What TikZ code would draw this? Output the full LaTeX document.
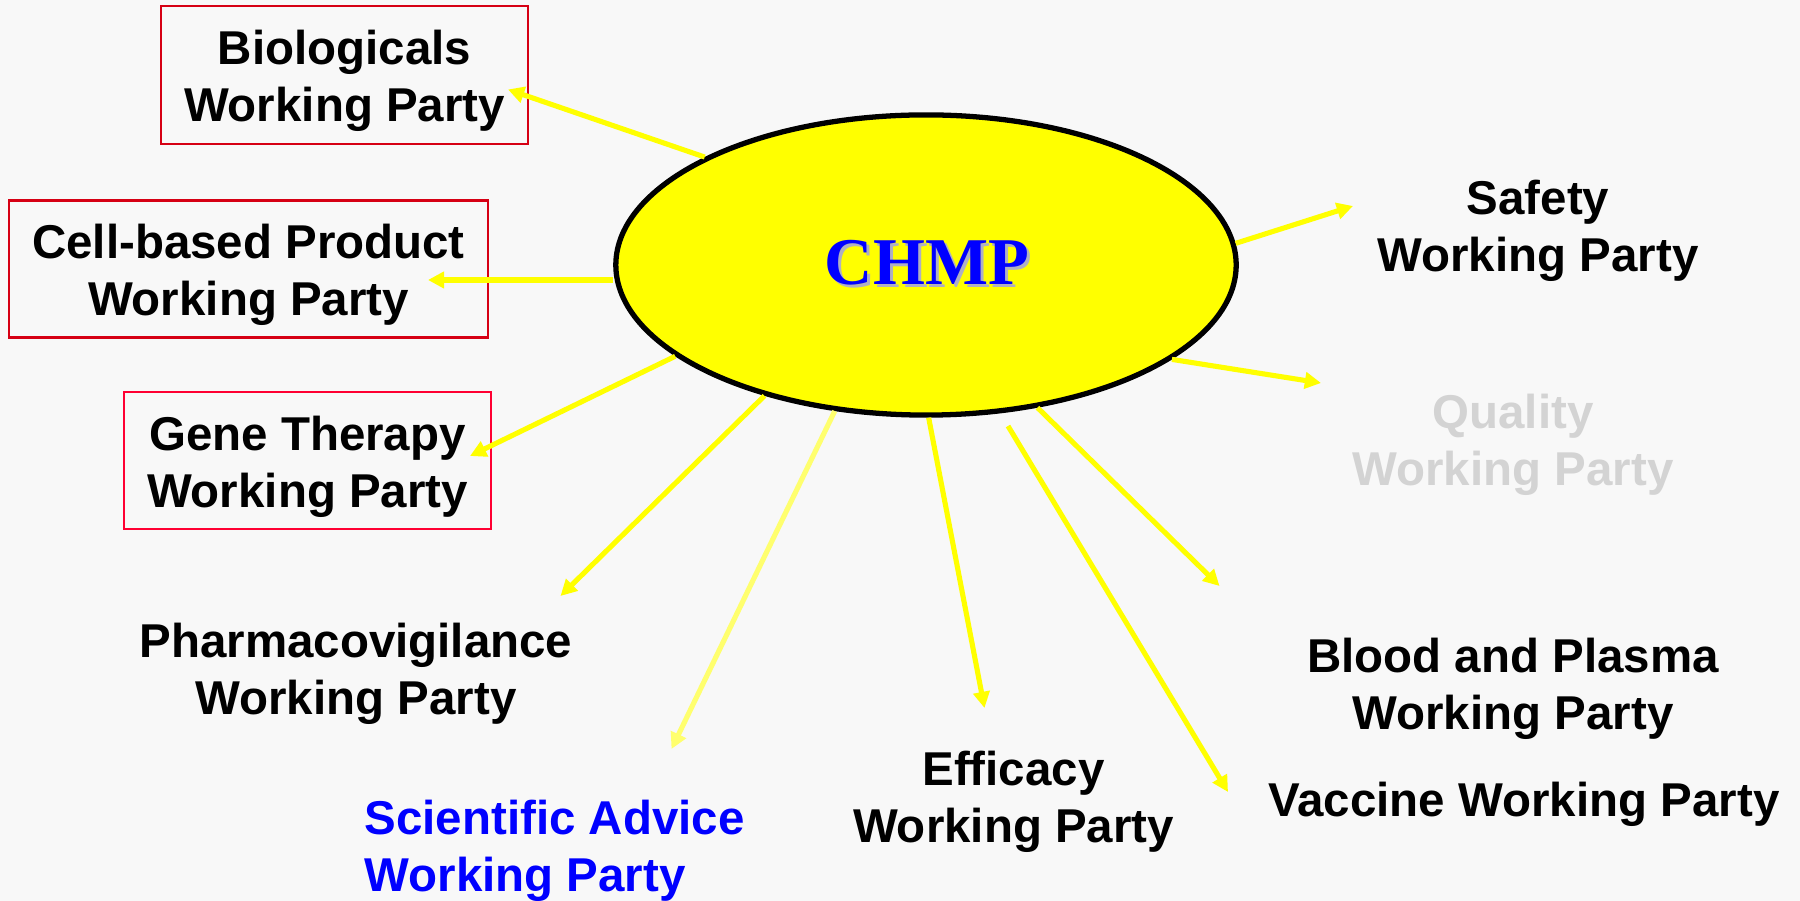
\documentclass[tikz,border=0pt]{standalone}
\usepackage{fontspec}
\setmainfont{Liberation Sans}
\newfontfamily\chmpfont{Liberation Serif}
\usetikzlibrary{shapes.geometric,arrows.meta}
\definecolor{bg}{RGB}{248,248,248}
\definecolor{ylw}{RGB}{255,255,0}
\definecolor{paleylw}{RGB}{255,255,110}
\definecolor{boxred}{RGB}{214,0,20}
\definecolor{boxredb}{RGB}{255,0,50}
\definecolor{qgray}{RGB}{211,211,211}
\definecolor{sciblue}{RGB}{0,0,255}
\definecolor{shadowgray}{RGB}{175,175,195}
\begin{document}
\begin{tikzpicture}[x=0.01cm,y=-0.01cm,
  lbl/.style={font=\fontsize{13.5}{16.3}\selectfont\bfseries, align=center, inner sep=0pt},
  wpbox/.style={draw=boxred, line width=0.7pt, inner sep=0pt},
  spoke/.style={draw=ylw, line width=1.45pt, -{Triangle[length=4.6pt,width=4.6pt]}},
]
\fill[bg] (0,0) rectangle (1800,901);
\useasboundingbox (0,0) rectangle (1800,901);

% boxed working parties
\node[wpbox, minimum width=3.67cm, minimum height=1.38cm] (bio) at (344.5,75) {};
\node[wpbox, minimum width=4.79cm, minimum height=1.365cm] (cell) at (248.5,269) {};
\node[wpbox, draw=boxredb, minimum width=3.67cm, minimum height=1.37cm] (gene) at (307.5,460.5) {};
\node[lbl] (biotxt) at (344.5,81) {Biologicals\\Working Party};
\node[lbl] (celltxt) at (248.5,275) {Cell-based Product\\Working Party};
\node[lbl] (genetxt) at (307.5,466.5) {Gene Therapy\\Working Party};

% free labels
\node[lbl] (safety) at (1538,231) {Safety\\Working Party};
\node[lbl, text=qgray] (quality) at (1513,445) {Quality\\Working Party};
\node[lbl] (pharma) at (356,674) {Pharmacovigilance\\Working Party};
\node[lbl, text=sciblue, align=left, anchor=west] (sci) at (364,850.5) {Scientific Advice\\Working Party};
\node[lbl] (eff) at (1013.5,802) {Efficacy\\Working Party};
\node[lbl] (blood) at (1513,689) {Blood and Plasma\\Working Party};
\node[lbl] (vacc) at (1524,804) {Vaccine Working Party};

% central ellipse
\node[ellipse, draw=black, line width=1.5pt, fill=ylw, minimum width=6.2cm, minimum height=3.0cm, inner sep=0pt] (chmp) at (926,265) {};
\node[font=\chmpfont\fontsize{19}{22}\selectfont\bfseries, text=shadowgray, inner sep=0pt] (chmpshadow) at (930,266) {CHMP};
\node[font=\chmpfont\fontsize{19}{22}\selectfont\bfseries, text=sciblue, inner sep=0pt] (chmplbl) at (927,263) {CHMP};

% arrow tips
\coordinate (tbio) at (508,89.5);
\coordinate (tcell) at (428,280);
\coordinate (tgene) at (470,456);
\coordinate (tpharma) at (560.5,596);
\coordinate (tsci) at (671.5,749);
\coordinate (teff) at (984.5,708);
\coordinate (svacc) at (1008,426);
\coordinate (tvacc) at (1228,792);
\coordinate (tblood) at (1219.5,586);
\coordinate (tqual) at (1321,383);
\coordinate (tsafe) at (1353,206);

\draw[spoke] (chmp.154.5) -- (tbio);
\draw[spoke] (chmp.west |- tcell) -- (tcell);
\draw[spoke] (chmp.200.5) -- (tgene);
\draw[spoke] (chmp.219.9) -- (tpharma);
\draw[spoke, draw=paleylw] (chmp.238.7) -- (tsci);
\draw[spoke] (chmp.271.5) -- (teff);
\draw[spoke] (svacc) -- (tvacc);
\draw[spoke] (chmp.308.5) -- (tblood);
\draw[spoke] (chmp.339.8) -- (tqual);
\draw[spoke] (chmp.4.5) -- (tsafe);
\end{tikzpicture}
\end{document}
